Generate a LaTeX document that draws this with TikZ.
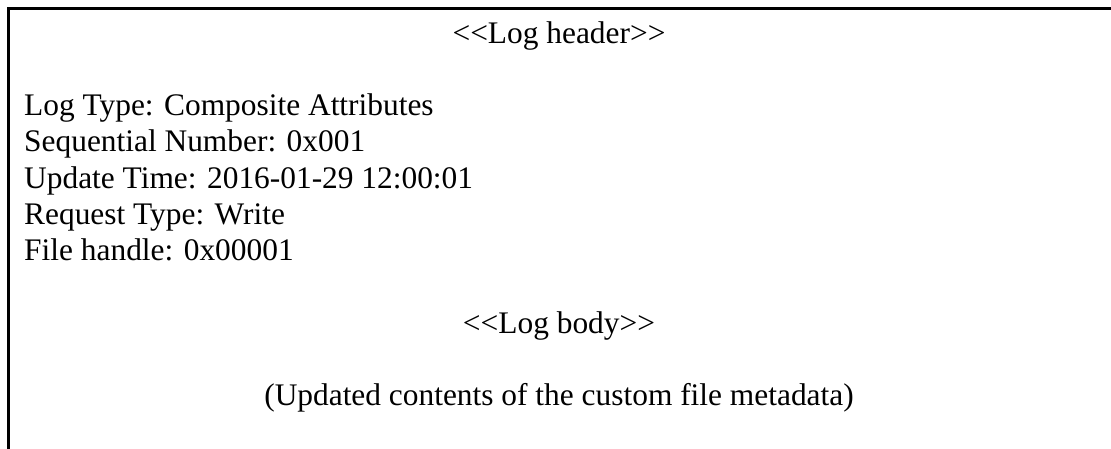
\documentclass[tikz,border=0pt]{standalone}
\usepackage{fontspec}
\setmainfont{Liberation Serif}
\begin{document}
\begin{tikzpicture}[x=1pt,y=-1pt,
  rec/.style={font=\fontsize{31.4pt}{36.2pt}\selectfont, inner sep=0pt},
  field/.style={rec, anchor=base west},
  heading/.style={rec, anchor=base},
  frame/.style={line width=3pt, draw=black}]
\useasboundingbox (0,0) rectangle (1111,448);
\clip (0,0) rectangle (1111,448);
% record frame (runs past the right and bottom edges)
\draw[frame] (8,8) rectangle (1125,465);
% header part
\node[heading] (hdr) at (559,43) {<{}<Log header>{}>};
\node[field] (ltype) at (24,115) {Log Type: Composite Attributes};
\node[field] (seq)   at (24,151) {Sequential Number: 0x001};
\node[field] (utime) at (24,188) {Update Time: 2016-01-29 12:00:01};
\node[field] (rtype) at (24,224) {Request Type: Write};
\node[field] (fh)    at (24,260) {File handle: 0x00001};
% body part
\node[heading] (body) at (559,333) {<{}<Log body>{}>};
\node[heading] (upd)  at (559,405) {(Updated contents of the custom file metadata)};
\end{tikzpicture}
\end{document}
